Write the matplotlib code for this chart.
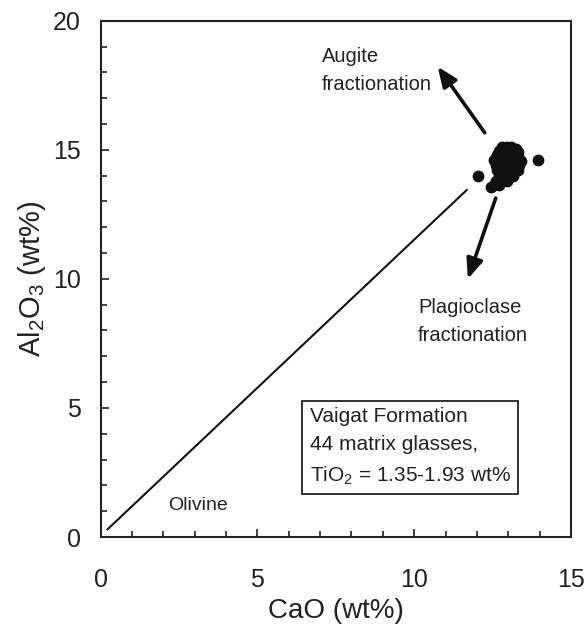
#!/usr/bin/env python
#####################################################################################
# LIBRAIRIES:
#####################################################################################
import matplotlib
matplotlib.use('Agg')
import matplotlib.pyplot as plt
from matplotlib.ticker import MultipleLocator
#####################################################################################
# SETTINGS:
#####################################################################################
plt.rcParams['font.family'] = ['Liberation Sans', 'DejaVu Sans']
plt.rcParams['mathtext.default'] = 'regular'
#####################################################################################
# DATA:
#####################################################################################
# Vaigat Formation matrix glasses (44 analyses)
cao = [13.95, 12.05, 12.45,
       12.8, 12.95, 13.1, 13.25,
       12.7, 12.9, 13.05, 13.2, 13.3,
       12.65, 12.85, 13.0, 13.15, 13.3,
       12.55, 12.75, 12.95, 13.1, 13.25, 13.4,
       12.6, 12.8, 13.0, 13.15, 13.35,
       12.65, 12.85, 13.0, 13.2, 13.3,
       12.7, 12.9, 13.05, 13.15,
       12.6, 12.8, 12.95,
       12.55, 12.7,
       13.0, 12.9]
al2o3 = [14.6, 14.0, 13.55,
         15.1, 15.1, 15.1, 15.05,
         14.95, 14.95, 14.95, 14.95, 14.9,
         14.8, 14.8, 14.8, 14.8, 14.75,
         14.6, 14.6, 14.6, 14.6, 14.6, 14.55,
         14.4, 14.4, 14.4, 14.4, 14.4,
         14.2, 14.2, 14.2, 14.2, 14.2,
         14.0, 14.0, 14.0, 14.0,
         13.8, 13.8, 13.8,
         13.65, 13.65,
         14.7, 14.3]

# olivine control line
olivine_x = [0.2, 11.7]
olivine_y = [0.27, 13.47]

# fractionation vectors (tail, tip)
augite_tail = (12.25, 15.66)
augite_tip = (10.75, 18.22)
plag_tail = (12.6, 13.13)
plag_tip = (11.71, 10.0)

xticks = [0, 5, 10, 15]
yticks = [0, 5, 10, 15, 20]
#####################################################################################
# PLOT:
#####################################################################################
fig = plt.figure(figsize=(5.85, 6.24), dpi=100)
ax = fig.add_axes([0.1718, 0.1394, 0.8043, 0.8274])

ax.plot(olivine_x, olivine_y, color='#111111', lw=1.5, solid_capstyle='butt')
ax.plot(cao, al2o3, 'o', color='#111111', ms=8.5, mec='none')

arrow = dict(arrowstyle='-|>,head_length=0.6,head_width=0.25', lw=2.6,
             color='#111111', mutation_scale=20, shrinkA=0, shrinkB=0)
ax.annotate('', xy=augite_tip, xytext=augite_tail, arrowprops=arrow)
ax.annotate('', xy=plag_tip, xytext=plag_tail, arrowprops=arrow)

ax.text(7.05, 19.0, 'Augite\nfractionation', fontsize=14.5, ha='left', va='top',
        linespacing=1.6, color='#222222')
ax.text(10.12, 9.25, 'Plagioclase\nfractionation', fontsize=14.5, ha='left', va='top',
        linespacing=1.6, color='#222222')
ax.text(2.16, 1.05, 'Olivine', fontsize=14, ha='left', va='baseline', color='#222222')
ax.text(6.67, 5.04, 'Vaigat Formation\n44 matrix glasses,\nTiO$_2$ = 1.35-1.93 wt%',
        fontsize=15, ha='left', va='top', linespacing=1.62, color='#222222',
        bbox=dict(boxstyle='square,pad=0.35', fc='white', ec='#222222', lw=1.3))

ax.set_xlim(0, 15)
ax.set_ylim(0, 20)
ax.set_xticks(xticks)
ax.set_yticks(yticks)
ax.xaxis.set_minor_locator(MultipleLocator(1))
ax.yaxis.set_minor_locator(MultipleLocator(1))
ax.tick_params(which='both', direction='in', top=False, right=False, width=1.2,
               color='#222222', labelcolor='#222222')
ax.tick_params(which='major', length=6, labelsize=18)
ax.tick_params(which='minor', length=4)
ax.tick_params(axis='x', which='major', pad=22)
ax.tick_params(axis='y', which='major', pad=14)
for s in ax.spines.values():
    s.set_linewidth(1.5)
    s.set_color('#222222')

ax.set_xlabel('CaO (wt%)', fontsize=20, color='#222222')
ax.set_ylabel('Al$_2$O$_3$ (wt%)', fontsize=21, color='#222222')
ax.xaxis.set_label_coords(0.5, -0.118)
ax.yaxis.set_label_coords(-0.112, 0.5)

fig.savefig('out.png', dpi=100)
